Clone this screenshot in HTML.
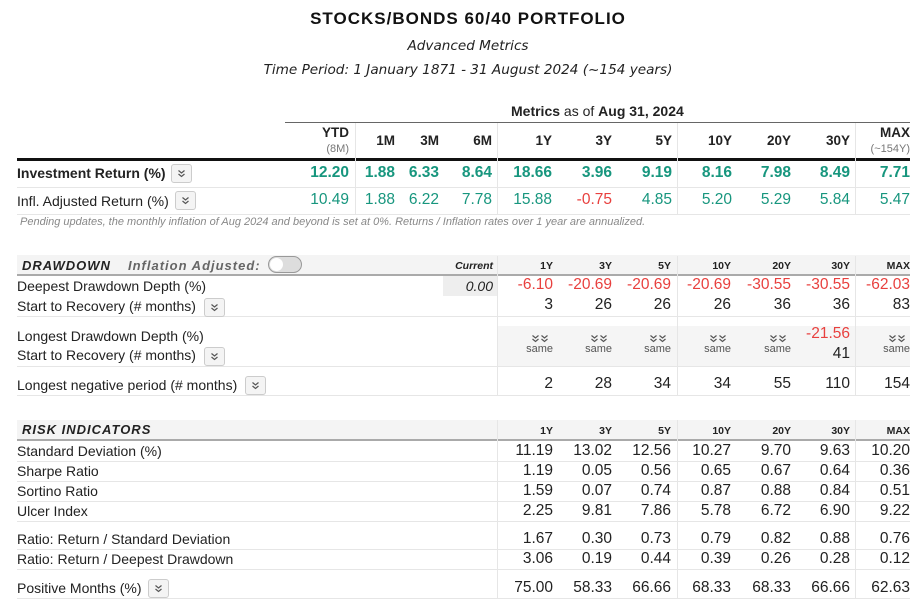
<!DOCTYPE html>
<html><head><meta charset="utf-8"><style>
body{margin:0;width:918px;height:601px;background:#fff;position:relative;overflow:hidden;font-family:"Liberation Sans",Arial,sans-serif;color:#222}
.a{position:absolute;white-space:nowrap}
.hl{position:absolute;height:1px;background:#e6e6e6}
.vl{position:absolute;width:1px;background:#e6e6e6}
.btn{position:absolute;width:19px;height:17px;border:1px solid #ccc;border-radius:3px;background:#f4f4f4}
.btn svg{position:absolute;left:5px;top:4px}
</style></head><body>
<div class="a" style="left:9px;width:918px;text-align:center;top:9px;font-size:17px;font-weight:bold;letter-spacing:1px;color:#111">STOCKS/BONDS 60/40 PORTFOLIO</div>
<div class="a" style="left:9px;width:918px;text-align:center;top:38px;font-family:'DejaVu Sans',sans-serif;font-style:italic;font-size:13.6px">Advanced Metrics</div>
<div class="a" style="left:9px;width:918px;text-align:center;top:62px;font-family:'DejaVu Sans',sans-serif;font-style:italic;font-size:13.6px">Time Period: 1 January 1871 - 31 August 2024 (~154 years)</div>
<div class="a" style="left:511px;top:103px;font-size:14px"><b>Metrics</b> as of <b>Aug 31, 2024</b></div>
<div class="hl" style="left:285px;width:625px;top:122px;background:#666"></div>
<div class="hl" style="left:17px;width:893px;top:158px;height:3px;background:#111"></div>
<div class="vl" style="left:355px;top:123px;height:91px"></div>
<div class="vl" style="left:497px;top:123px;height:91px"></div>
<div class="vl" style="left:677px;top:123px;height:91px"></div>
<div class="vl" style="left:855px;top:123px;height:91px"></div>
<div class="hl" style="left:17px;width:893px;top:187px"></div>
<div class="hl" style="left:17px;width:893px;top:214px"></div>
<div class="a" style="left:17px;top:165px;font-size:14px;font-weight:bold">Investment Return (%)</div>
<div class="a" style="left:17px;top:193px;font-size:14px">Infl. Adjusted Return (%)</div>
<div class="a" style="left:20px;top:216px;font-size:11px;font-style:italic;color:#888">Pending updates, the monthly inflation of Aug 2024 and beyond is set at 0%. Returns / Inflation rates over 1 year are annualized.</div>

<div class="a" style="left:17px;top:255px;width:893px;height:19px;background:#f4f4f4"></div>
<div class="hl" style="left:17px;width:893px;top:274px;height:2px;background:#aaa"></div>
<div class="a" style="left:22px;top:258px;font-size:13px;font-weight:bold;font-style:italic;letter-spacing:1px">DRAWDOWN</div>
<div class="a" style="left:128px;top:258px;font-size:13px;font-weight:bold;font-style:italic;letter-spacing:1px;color:#666">Inflation Adjusted:</div>
<div class="a" style="left:268px;top:256px;width:32px;height:15px;border:1px solid #999;border-radius:9px;background:#ddd"><div style="position:absolute;left:1px;top:1px;width:13px;height:13px;border-radius:7px;background:#fff"></div></div>
<div class="a" style="left:443px;top:276px;width:54px;height:20px;background:#eee"></div>
<div class="a" style="left:497px;top:326px;width:358px;height:40px;background:#f5f5f5"></div>
<div class="a" style="left:855px;top:326px;width:55px;height:40px;background:#f5f5f5"></div>
<div class="hl" style="left:17px;width:893px;top:316px"></div>
<div class="hl" style="left:17px;width:893px;top:366px"></div>
<div class="hl" style="left:17px;width:893px;top:395px"></div>

<div class="a" style="left:17px;top:420px;width:893px;height:19px;background:#f4f4f4"></div>
<div class="hl" style="left:17px;width:893px;top:439px;height:2px;background:#aaa"></div>
<div class="a" style="left:22px;top:422px;font-size:13px;font-weight:bold;font-style:italic;letter-spacing:1px">RISK INDICATORS</div>
<script>
const topCols=["YTD","1M","3M","6M","1Y","3Y","5Y","10Y","20Y","30Y","MAX"];
const topRight=[349,395,439,492,552,612,672,732,791,850,910];
const investReturn=["12.20","1.88","6.33","8.64","18.66","3.96","9.19","8.16","7.98","8.49","7.71"];
const inflReturn=["10.49","1.88","6.22","7.78","15.88","-0.75","4.85","5.20","5.29","5.84","5.47"];
const ddCols=["1Y","3Y","5Y","10Y","20Y","30Y","MAX"];
const ddRight=[553,612,671,731,791,850,910];
const deepest=["-6.10","-20.69","-20.69","-20.69","-30.55","-30.55","-62.03"];
const deepRec=["3","26","26","26","36","36","83"];
const longestDepth=["same","same","same","same","same","-21.56","same"];
const longestRec=["","","","","","41",""];
const negPeriod=["2","28","34","34","55","110","154"];
const riskLabels=["Standard Deviation (%)","Sharpe Ratio","Sortino Ratio","Ulcer Index","Ratio: Return / Standard Deviation","Ratio: Return / Deepest Drawdown","Positive Months (%)"];
const riskY=[443,463,483,503,531,551,580];
const riskVals=[
["11.19","13.02","12.56","10.27","9.70","9.63","10.20"],
["1.19","0.05","0.56","0.65","0.67","0.64","0.36"],
["1.59","0.07","0.74","0.87","0.88","0.84","0.51"],
["2.25","9.81","7.86","5.78","6.72","6.90","9.22"],
["1.67","0.30","0.73","0.79","0.82","0.88","0.76"],
["3.06","0.19","0.44","0.39","0.26","0.28","0.12"],
["75.00","58.33","66.66","68.33","68.33","66.66","62.63"]];
const B=document.body;
const CHEV='<svg width="9" height="9" viewBox="0 0 9 9"><path d="M1.5 1.5L4.5 4L7.5 1.5M1.5 5L4.5 7.5L7.5 5" fill="none" stroke="#555" stroke-width="1.2"/></svg>';
function T(right,top,txt,style,name){
 const el=document.createElement('div');
 el.className='a';
 
 
 el.textContent=txt;
 el.style.cssText='right:'+(918-right)+'px;top:'+top+'px;'+style;
 B.appendChild(el);return el;
}
function L(left,top,txt,style,name){
 const el=T(0,top,txt,style,name);
 el.style.right='';el.style.left=left+'px';return el;
}
topCols.forEach((c,i)=>{
 const big=(i==0||i==10);
 T(topRight[i],big?125:133,c,'font-size:13.5px;font-weight:bold','col-header-'+c.toLowerCase());
});
T(349,143,'(8M)','font-size:11px;color:#777','ytd-months');
T(910,143,'(~154Y)','font-size:11px;color:#777','max-years');
investReturn.forEach((v,i)=>T(topRight[i],164,v,'font-size:15.5px;font-weight:bold;color:'+(v[0]=='-'?'#e8403e':'#17967e'),'investment-return-'+topCols[i].toLowerCase()));
inflReturn.forEach((v,i)=>T(topRight[i],191,v,'font-size:15.5px;color:'+(v[0]=='-'?'#e8403e':'#17967e'),'infl-return-'+topCols[i].toLowerCase()));
T(493,260,'Current','font-size:10.5px;font-weight:bold;font-style:italic','col-current');
ddCols.forEach((c,i)=>T(ddRight[i],260,c,'font-size:10.5px;font-weight:bold','dd-col-'+c.toLowerCase()));
ddCols.forEach((c,i)=>T(ddRight[i],425,c,'font-size:10.5px;font-weight:bold','risk-col-'+c.toLowerCase()));
T(493,278,'0.00','font-size:14px;font-style:italic','current-drawdown');
L(17,278,'Deepest Drawdown Depth (%)','font-size:14px','deepest-drawdown-label');
L(17,298,'Start to Recovery (# months)','font-size:14px','start-recovery-label');
L(17,328,'Longest Drawdown Depth (%)','font-size:14px','longest-drawdown-label');
L(17,347,'Start to Recovery (# months)','font-size:14px','longest-recovery-label');
L(17,377,'Longest negative period (# months)','font-size:14px','longest-negative-label');
deepest.forEach((v,i)=>T(ddRight[i],276,v,'font-size:15.5px;color:#e8403e','deepest-'+ddCols[i].toLowerCase()));
deepRec.forEach((v,i)=>T(ddRight[i],296,v,'font-size:15.5px','deep-recovery-'+ddCols[i].toLowerCase()));
longestDepth.forEach((v,i)=>{
 if(v=='same'){
  const ic=T(ddRight[i]-4,334,'','line-height:0','same-icon-'+ddCols[i].toLowerCase());
  ic.innerHTML=CHEV+CHEV;
  T(ddRight[i],343,'same','font-size:11px;color:#555','same-'+ddCols[i].toLowerCase());}
 else T(ddRight[i],325,v,'font-size:15.5px;color:#e8403e','longest-depth-'+ddCols[i].toLowerCase());
});
longestRec.forEach((v,i)=>{if(v)T(ddRight[i],345,v,'font-size:15.5px','longest-recovery-'+ddCols[i].toLowerCase());});
negPeriod.forEach((v,i)=>T(ddRight[i],375,v,'font-size:15.5px','neg-period-'+ddCols[i].toLowerCase()));
riskLabels.forEach((lab,r)=>{
 L(17,riskY[r],lab,'font-size:14px','risk-label-'+r);
 riskVals[r].forEach((v,i)=>T(ddRight[i],riskY[r]-1,v,'font-size:15.5px','risk-'+r+'-'+ddCols[i].toLowerCase()));
 const ln=document.createElement('div');
 ln.className='hl';
 
 
 ln.style.cssText='left:17px;width:893px;top:'+(riskY[r]+18)+'px';
 B.appendChild(ln);
});
[[171,164],[175,191],[204,298],[204,347],[245,376],[148,579]].forEach((p,k)=>{
 const b=document.createElement('div');
 b.className='btn';
 
 
 b.innerHTML=CHEV;
 b.style.left=p[0]+'px';b.style.top=p[1]+'px';
 B.appendChild(b);
});
[497,677,855].forEach(x=>{
 [[256,139],[420,179]].forEach(s=>{
  const v=document.createElement('div');
  v.className='vl';
  
  
  v.style.cssText='left:'+x+'px;top:'+s[0]+'px;height:'+s[1]+'px';
  B.appendChild(v);
 });
});
</script>
</body></html>
